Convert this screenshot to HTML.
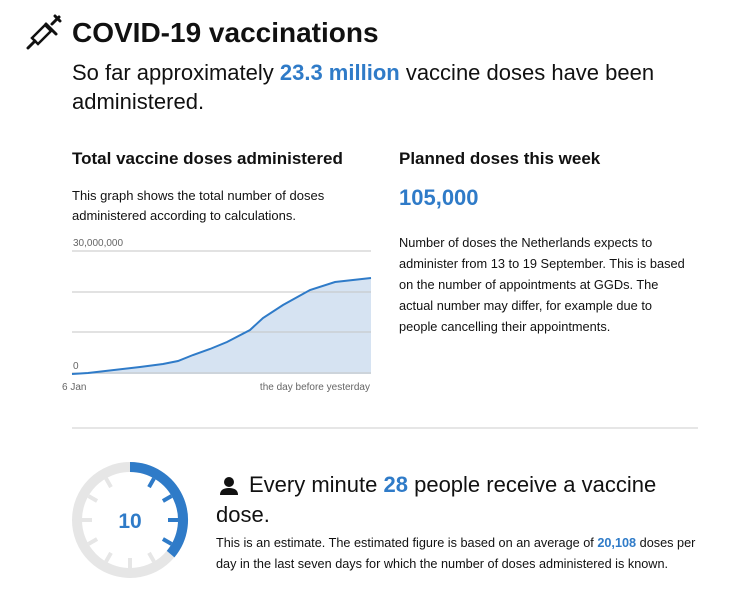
<!DOCTYPE html>
<html><head><style>
body{margin:0;width:740px;height:596px;background:#fff;font-family:"Liberation Sans",sans-serif;color:#111;position:relative;overflow:hidden}
.a{position:absolute;white-space:nowrap}
.b{color:#2f7bc8;font-weight:bold}
</style></head><body>
<svg class="a" style="left:26px;top:14px" width="36" height="36" viewBox="0 0 36 36"><g stroke="#111" stroke-width="3" fill="none" stroke-linecap="round"><line x1="2" y1="34" x2="9" y2="27"/><path d="M9 27 L22 14 L28 20 L15 33 Z" fill="none" stroke-width="2.5" transform="translate(-3,-3)"/><line x1="20" y1="10" x2="30" y2="20"/><line x1="26" y1="10" x2="33" y2="3"/><line x1="29" y1="2" x2="34" y2="7"/></g></svg>
<div class="a" style="left:72px;top:17px;font-size:28px;font-weight:bold">COVID-19 vaccinations</div>
<div class="a" style="left:72px;top:58px;font-size:22px;line-height:29px">So far approximately <span class="b">23.3 million</span> vaccine doses have been<br>administered.</div>
<div class="a" style="left:72px;top:149px;font-size:17px;font-weight:bold">Total vaccine doses administered</div>
<div class="a" style="left:72px;top:186px;font-size:13px;line-height:20px">This graph shows the total number of doses<br>administered according to calculations.</div>
<svg class="a" style="left:0;top:0" width="740" height="596">
<path d="M72 374 L88 373 L140 367 L163 364 L178 361 L193 355 L210 349 L227 342 L250 330 L263 318 L283 305 L310 290 L335 282 L371 278 L371 374 Z" fill="#d6e3f2"/>
<g stroke="#c4c4c4" stroke-width="1"><line x1="72" y1="251" x2="371" y2="251"/><line x1="72" y1="292" x2="371" y2="292"/><line x1="72" y1="332" x2="371" y2="332"/><line x1="72" y1="373" x2="371" y2="373"/></g>
<path d="M72 374 L88 373 L140 367 L163 364 L178 361 L193 355 L210 349 L227 342 L250 330 L263 318 L283 305 L310 290 L335 282 L371 278" fill="none" stroke="#2f7bc8" stroke-width="2"/>
<text x="73" y="246" font-size="10" fill="#666" font-family="Liberation Sans">30,000,000</text>
<text x="73" y="369" font-size="10" fill="#666" font-family="Liberation Sans">0</text>
<text x="62" y="390" font-size="10" fill="#666" font-family="Liberation Sans">6 Jan</text>
<text x="370" y="390" font-size="10" fill="#666" text-anchor="end" font-family="Liberation Sans">the day before yesterday</text>
<line x1="72" y1="428" x2="698" y2="428" stroke="#ccc"/>
<circle cx="130" cy="520" r="53" fill="none" stroke="#e6e6e6" stroke-width="10"/>
<path d="M130 467 A53 53 0 0 1 170.6 554.1" fill="none" stroke="#2f7bc8" stroke-width="10"/>
<g stroke-width="4">
<line x1="130" y1="472" x2="130" y2="482" stroke="#2f7bc8" transform="rotate(30 130 520)"/>
<line x1="130" y1="472" x2="130" y2="482" stroke="#2f7bc8" transform="rotate(60 130 520)"/>
<line x1="130" y1="472" x2="130" y2="482" stroke="#2f7bc8" transform="rotate(90 130 520)"/>
<line x1="130" y1="472" x2="130" y2="482" stroke="#2f7bc8" transform="rotate(120 130 520)"/>
<line x1="130" y1="472" x2="130" y2="482" stroke="#e6e6e6" transform="rotate(150 130 520)"/>
<line x1="130" y1="472" x2="130" y2="482" stroke="#e6e6e6" transform="rotate(180 130 520)"/>
<line x1="130" y1="472" x2="130" y2="482" stroke="#e6e6e6" transform="rotate(210 130 520)"/>
<line x1="130" y1="472" x2="130" y2="482" stroke="#e6e6e6" transform="rotate(240 130 520)"/>
<line x1="130" y1="472" x2="130" y2="482" stroke="#e6e6e6" transform="rotate(270 130 520)"/>
<line x1="130" y1="472" x2="130" y2="482" stroke="#e6e6e6" transform="rotate(300 130 520)"/>
<line x1="130" y1="472" x2="130" y2="482" stroke="#e6e6e6" transform="rotate(330 130 520)"/>
</g>
<text x="130" y="528" font-size="21" font-weight="bold" fill="#2f7bc8" text-anchor="middle" font-family="Liberation Sans">10</text>
<g fill="#111"><circle cx="229" cy="482" r="5"/><path d="M220 495 Q220 488 229 488 Q238 488 238 495 Z"/></g>
</svg>
<div class="a" style="left:399px;top:149px;font-size:17px;font-weight:bold">Planned doses this week</div>
<div class="a b" style="left:399px;top:185px;font-size:22px">105,000</div>
<div class="a" style="left:399px;top:232px;font-size:12.8px;line-height:21px">Number of doses the Netherlands expects to<br>administer from 13 to 19 September. This is based<br>on the number of appointments at GGDs. The<br>actual number may differ, for example due to<br>people cancelling their appointments.</div>
<div class="a" style="left:249px;top:470px;font-size:22px;line-height:30px">Every minute <span class="b">28</span> people receive a vaccine</div>
<div class="a" style="left:216px;top:500px;font-size:22px;line-height:30px">dose.</div>
<div class="a" style="left:216px;top:533px;font-size:12.7px;line-height:21px">This is an estimate. The estimated figure is based on an average of <span class="b">20,108</span> doses per<br>day in the last seven days for which the number of doses administered is known.</div>
</body></html>
